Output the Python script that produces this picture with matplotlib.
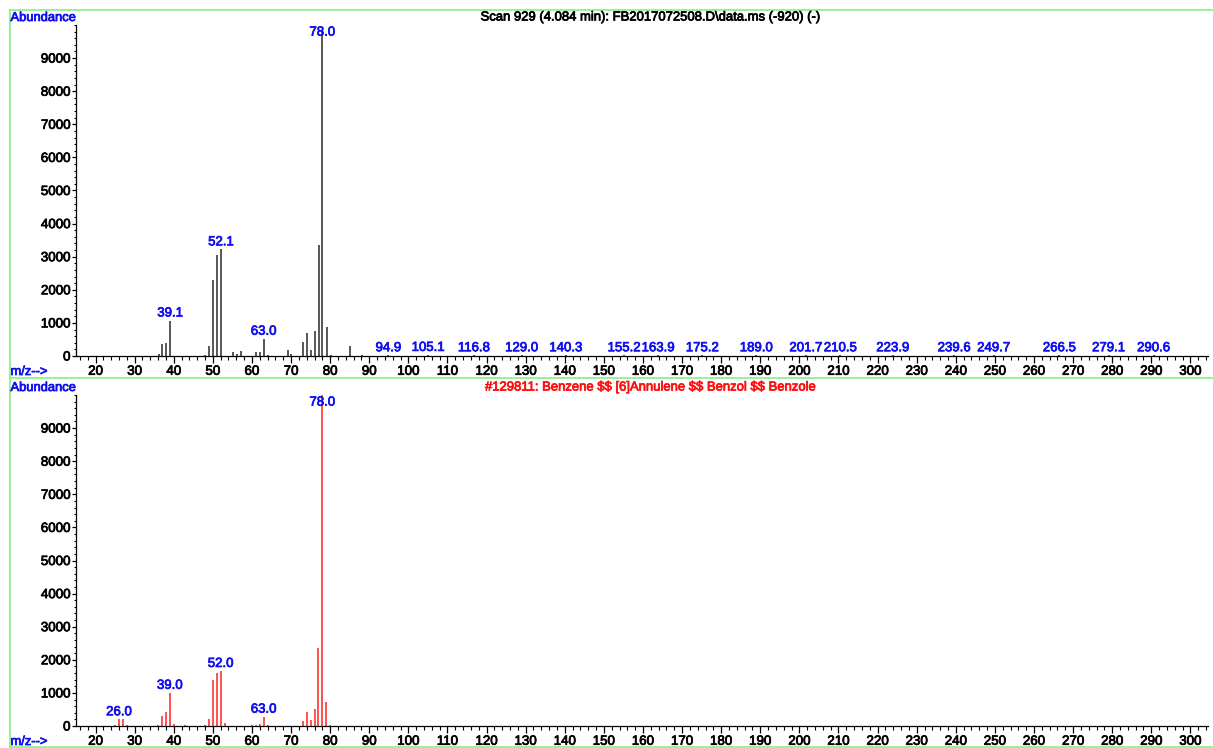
import matplotlib
matplotlib.use("Agg")
import matplotlib.pyplot as plt
import matplotlib.patheffects as pe
from matplotlib.ticker import MultipleLocator
from matplotlib.lines import Line2D

plt.rcParams['font.family'] = ['Liberation Sans', 'DejaVu Sans']

# ---- Data: measured spectrum (top) ----
scan_mz = [36.1, 37.1, 38.1, 39.1, 48.1, 49.1, 50.1, 51.1, 52.1, 55.2, 56.1, 57.1,
           61.1, 62.1, 63.0, 64.1, 69.1, 70.1, 73.1, 74.1, 75.1, 76.1, 77.1, 78.0,
           79.1, 80.1, 85.1, 88.1,
           94.9, 105.1, 116.8, 129.0, 140.3, 155.2, 163.9, 175.2, 189.0, 201.7,
           210.5, 223.9, 239.6, 249.7, 266.5, 279.1, 290.6]
scan_ab = [60, 370, 390, 1070, 40, 300, 2300, 3050, 3220, 130, 70, 140,
           130, 130, 520, 40, 170, 60, 420, 680, 190, 750, 3340, 9800,
           880, 40, 310, 20,
           20, 30, 20, 20, 20, 20, 20, 20, 20, 20,
           20, 20, 20, 20, 20, 20, 20]
scan_labels = [39.1, 52.1, 63.0, 78.0, 94.9, 105.1, 116.8, 129.0, 140.3, 155.2,
               163.9, 175.2, 189.0, 201.7, 210.5, 223.9, 239.6, 249.7, 266.5,
               279.1, 290.6]

# ---- Data: library spectrum (bottom) ----
lib_mz = [25, 26, 27, 28, 36, 37, 38, 39, 40, 43, 48, 49, 50, 51, 52, 53,
          60, 61, 62, 63, 64, 73, 74, 75, 76, 77, 78, 79, 80]
lib_ab = [30, 200, 200, 40, 40, 300, 430, 1000, 60, 30, 30, 200, 1400, 1590, 1660, 80,
          20, 40, 60, 280, 20, 140, 420, 170, 500, 2370, 9999, 720, 30]
lib_labels = [26.0, 39.0, 52.0, 63.0, 78.0]

top_title = "Scan 929 (4.084 min): FB2017072508.D\\data.ms (-920) (-)"
bottom_title = "#129811: Benzene $$ [6]Annulene $$ Benzol $$ Benzole"

W, H = 1213, 748
fig = plt.figure(figsize=(W / 100, H / 100), dpi=100)

def fx(px):
    return px / W

def fy(py):
    return 1 - py / H

BLUE = '#1010f0'
GREEN = '#88ee88'

def heavy(color):
    return [pe.withStroke(linewidth=0.55, foreground=color)]

def make_panel(y_top_px, y_bot_px, mz, ab, labels, color, title, title_color):
    ax = fig.add_axes([fx(76), fy(y_bot_px), fx(1208) - fx(76), (y_bot_px - y_top_px) / H])
    ax.vlines(mz, 0, ab, colors=color, linewidth=1.1)
    ax.set_xlim(15, 304.5)
    ax.set_ylim(0, 10000)
    for s in ('top', 'right'):
        ax.spines[s].set_visible(False)
    for s in ('left', 'bottom'):
        ax.spines[s].set_linewidth(0.9)
    ax.xaxis.set_major_locator(MultipleLocator(10))
    ax.xaxis.set_minor_locator(MultipleLocator(2))
    ax.set_xticks(range(20, 301, 10))
    ax.yaxis.set_major_locator(MultipleLocator(1000))
    ax.yaxis.set_minor_locator(MultipleLocator(200))
    ax.set_yticks(range(0, 10000, 1000))
    ax.tick_params(axis='x', which='major', length=5, width=0.9, labelsize=9.6, pad=2)
    ax.tick_params(axis='x', which='minor', length=3, width=0.8)
    ax.tick_params(axis='y', which='major', length=3, width=0.9, labelsize=9.6, pad=1)
    ax.tick_params(axis='y', which='minor', length=1.5, width=0.8)
    for t in ax.get_xticklabels() + ax.get_yticklabels():
        t.set_path_effects(heavy('black'))
    for lab in labels:
        i = min(range(len(mz)), key=lambda k: abs(mz[k] - lab))
        h = ab[i]
        ty = min(h + 215, 9770)
        ax.text(lab, ty, f"{lab:.1f}", color=BLUE, fontsize=9.5, ha='center', va='center',
                clip_on=False, path_effects=heavy(BLUE))
    fig.text(fx(650), fy(y_top_px - 7.5), title, color=title_color, fontsize=9.4,
             ha='center', va='center', parse_math=False, path_effects=heavy(title_color))
    fig.text(fx(10.5), fy(y_top_px - 7), "Abundance", color=BLUE, fontsize=9.3,
             ha='left', va='center', path_effects=heavy(BLUE))
    fig.text(fx(10.5), fy(y_bot_px + 16), "m/z-->", color=BLUE, fontsize=9.3,
             ha='left', va='center', path_effects=heavy(BLUE))
    return ax

make_panel(25, 356, scan_mz, scan_ab, scan_labels, '#2a2a2a', top_title, 'black')
make_panel(395, 726, lib_mz, lib_ab, lib_labels, '#ff2222', bottom_title, '#ff1010')

for (x0, y0, x1, y1) in [(10, 10, 1212, 10), (10, 10, 10, 747), (10, 378, 1212, 378),
                         (10, 747, 1212, 747)]:
    fig.add_artist(Line2D([fx(x0), fx(x1)], [fy(y0), fy(y1)], color=GREEN, linewidth=1.2,
                          transform=fig.transFigure))

fig.savefig("out.png", dpi=100)
